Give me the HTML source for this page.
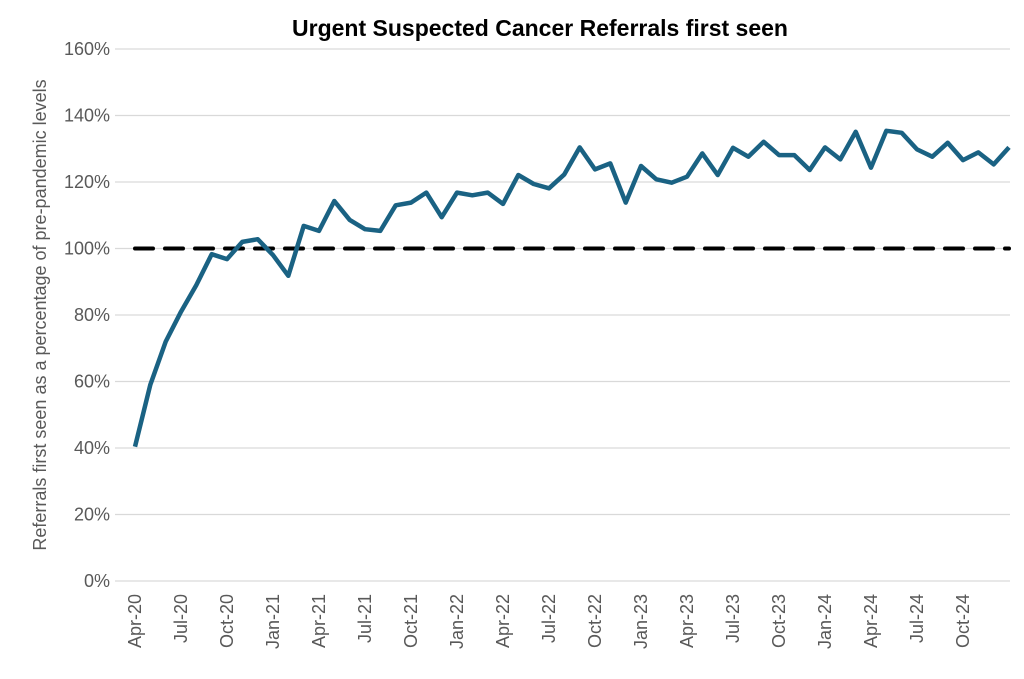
<!DOCTYPE html>
<html><head><meta charset="utf-8"><style>
html,body{margin:0;padding:0;background:#fff;}
svg{display:block;font-family:"Liberation Sans",Arial,sans-serif;}
</style></head><body>
<svg id="chart" width="1024" height="679" viewBox="0 0 1024 679">
<text x="540" y="36" text-anchor="middle" font-size="23" font-weight="bold" fill="#000">Urgent Suspected Cancer Referrals first seen</text>
<text transform="translate(46,315) rotate(-90)" text-anchor="middle" font-size="18" fill="#595959">Referrals first seen as a percentage of pre-pandemic levels</text>
<g id="grid"></g><g id="yticks"></g><g id="xticks"></g><g id="series"></g>
</svg>
<script>
const months = ["Apr-20","May-20","Jun-20","Jul-20","Aug-20","Sep-20","Oct-20","Nov-20","Dec-20","Jan-21","Feb-21","Mar-21","Apr-21","May-21","Jun-21","Jul-21","Aug-21","Sep-21","Oct-21","Nov-21","Dec-21","Jan-22","Feb-22","Mar-22","Apr-22","May-22","Jun-22","Jul-22","Aug-22","Sep-22","Oct-22","Nov-22","Dec-22","Jan-23","Feb-23","Mar-23","Apr-23","May-23","Jun-23","Jul-23","Aug-23","Sep-23","Oct-23","Nov-23","Dec-23","Jan-24","Feb-24","Mar-24","Apr-24","May-24","Jun-24","Jul-24","Aug-24","Sep-24","Oct-24","Nov-24","Dec-24","Jan-25"];
const values = [40.4,59,72,81,89,98.3,96.8,102,102.8,98,91.8,106.8,105.3,114.3,108.6,105.8,105.3,113,113.8,116.8,109.4,116.8,116,116.8,113.4,122.1,119.4,118.1,122.3,130.4,123.8,125.6,113.8,124.8,120.8,119.8,121.6,128.6,122.1,130.3,127.6,132.1,128.1,128.1,123.6,130.4,126.8,135.1,124.3,135.4,134.8,129.8,127.6,131.8,126.6,128.9,125.3,130.4];
const baseline = 100;
const yTicks = [0,20,40,60,80,100,120,140,160];
const NS="http://www.w3.org/2000/svg";
const x0=135, x1=1009, y0=581, y1=49, gl=115, gr=1010;
const xs = i => x0 + i*(x1-x0)/(months.length-1);
const ys = v => y0 - (v/160)*(y0-y1);
function mk(tag,attrs,parent){const e=document.createElementNS(NS,tag);for(const k in attrs)e.setAttribute(k,attrs[k]);parent.appendChild(e);return e;}
const grid=document.getElementById('grid'), yt=document.getElementById('yticks'), xt=document.getElementById('xticks'), ser=document.getElementById('series');
yTicks.forEach(t=>{
  const l=mk('line',{x1:gl,x2:gr,y1:ys(t),y2:ys(t),stroke:'#d9d9d9','stroke-width':1.3},grid);
  
  
  const tx=mk('text',{x:110,y:ys(t)+6,'text-anchor':'end','font-size':18,fill:'#595959'},yt);
  tx.textContent=t+'%';
  
  
});
months.forEach((m,i)=>{
  if(i%3!==0 || i>54) return;
  const tx=mk('text',{transform:`translate(${xs(i)+6},594) rotate(-90)`,'text-anchor':'end','font-size':18,fill:'#595959'},xt);
  tx.textContent=m;
  
  
});
const bl=mk('line',{x1:x0,x2:x1,y1:ys(baseline),y2:ys(baseline),stroke:'#000','stroke-width':4,'stroke-dasharray':'18 12','stroke-linecap':'round'},ser);


const pts=values.map((v,i)=>xs(i).toFixed(1)+','+ys(v).toFixed(1)).join(' ');
const pl=mk('polyline',{points:pts,fill:'none',stroke:'#1a6283','stroke-width':4.5,'stroke-linejoin':'round'},ser);


</script>
</body></html>
